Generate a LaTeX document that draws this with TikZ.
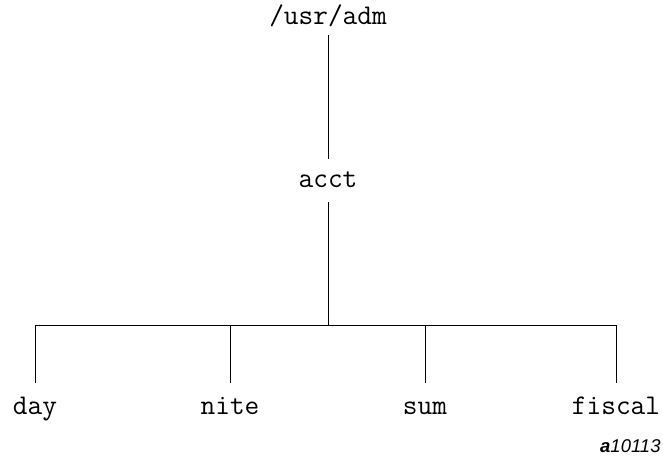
\documentclass[tikz,border=0pt]{standalone}
\usepackage{fontspec}
\setmainfont{Liberation Sans}
\usetikzlibrary{positioning}
\tikzset{
  dir/.style={font=\ttfamily\fontsize{28.5}{32}\selectfont, anchor=base,
    inner sep=0pt, text height=13pt, text depth=0pt, outer ysep=15pt},
  figtag/.style={font=\fontsize{18.5}{20}\selectfont\itshape, anchor=base east, inner sep=0pt}
}

\begin{document}
\begin{tikzpicture}[x=1pt,y=-1pt,line width=0.9pt]
        \useasboundingbox (0,0) rectangle (663,460);

        % Verzeichnisse
        \node[dir, outer ysep=10pt] (usr) at (328,25) {/usr/adm};
        \node[dir] (acct) at (328,187) {acct};
        \node[dir, outer ysep=18pt] (day) at (35,414) {day};
        \node[dir, outer ysep=18pt] (nite) at (230,414) {nite};
        \node[dir, outer ysep=18pt] (sum) at (425,414) {sum};
        \node[dir, outer ysep=18pt] (fiscal) at (616,414) {fiscal};
        \coordinate (bar) at (328,325);

        % Baum
        \draw (usr) -- (acct);
        \draw (acct) -- (bar);
        \draw (day |- bar) -- (fiscal |- bar);
        \foreach \d in {day, nite, sum, fiscal}
            \draw (\d |- bar) -- (\d);

        \node[figtag] (tag) at (661,452) {\textbf{a}10113};
    \end{tikzpicture}
\end{document}
